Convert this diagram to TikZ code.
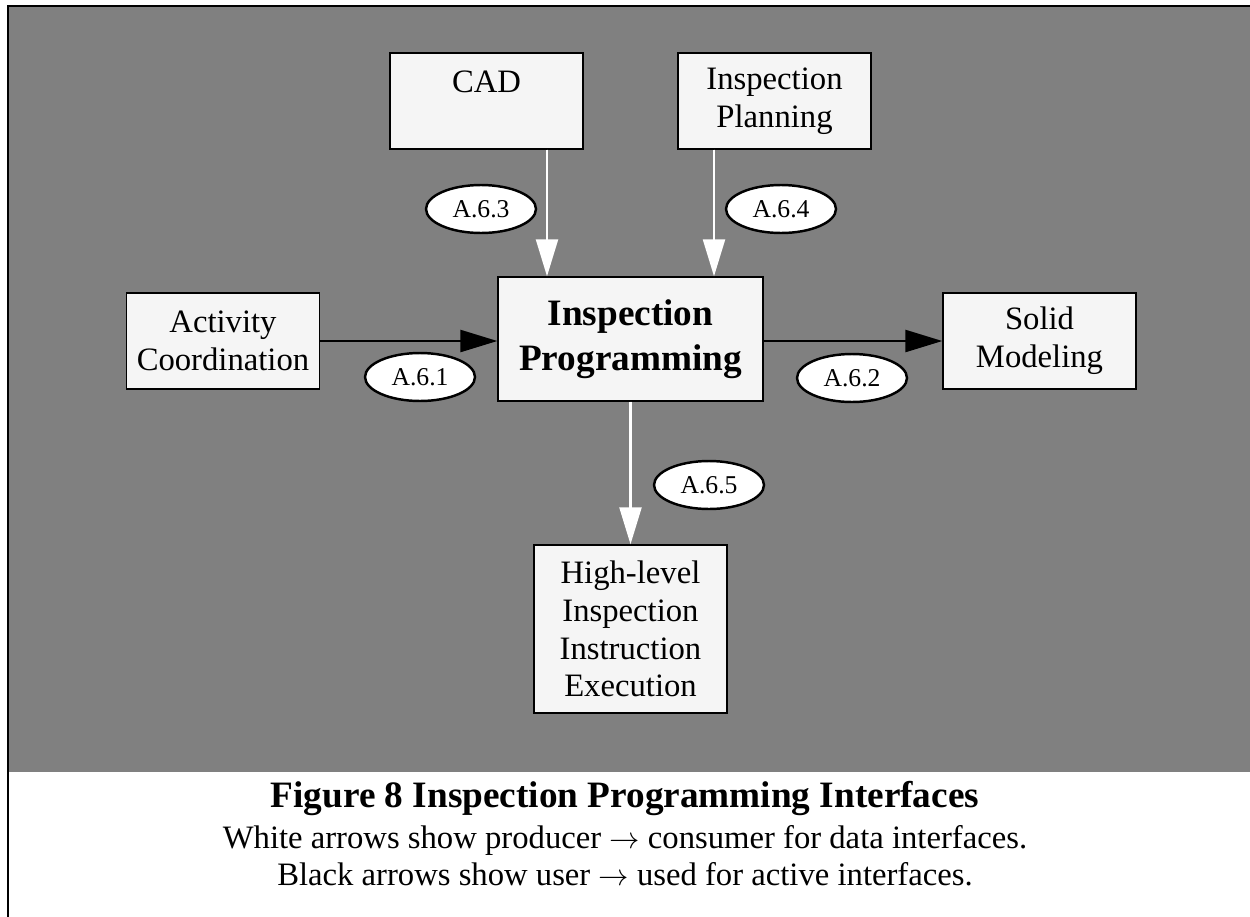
\documentclass[tikz,border=0pt]{standalone}
\usepackage{fontspec}
\setmainfont{Liberation Serif}
\usetikzlibrary{shapes.geometric, arrows.meta, positioning, calc}
\definecolor{panelgray}{RGB}{128, 128, 128}
\definecolor{boxfill}{RGB}{245, 245, 245}

\begin{document}
\begin{tikzpicture}[
    x=0.02cm, y=-0.02cm,
    box/.style={rectangle, draw, line width=0.8pt, fill=boxfill, minimum width=3.86cm, minimum height=1.92cm, inner sep=0pt, align=center, font=\fontsize{18.6}{21.5}\selectfont},
    mainbox/.style={box, minimum width=5.3cm, minimum height=2.48cm, font=\fontsize{21.2}{25.6}\selectfont\bfseries},
    tag/.style={ellipse, draw, line width=1.4pt, fill=white, minimum width=2.2cm, minimum height=0.96cm, inner sep=0pt, font=\fontsize{14.6}{16}\selectfont},
    blackarrow/.style={-{Triangle[length=0.74cm, width=0.44cm]}, line width=1.4pt},
    whitearrow/.style={-{Triangle[length=0.74cm, width=0.44cm]}, draw=white, fill=white, line width=1.3pt},
    caption/.style={anchor=base, inner sep=0pt, font=\fontsize{18.6}{21}\selectfont}
]

% Rahmen und grauer Hintergrund
\clip (0,0) rectangle (1250,916);
\fill[white] (0,0) rectangle (1250,916);
\fill[panelgray] (9,7) rectangle (1260,772);
\draw[line width=1.7pt] (8,6) rectangle (1300,1000);

% Knoten
\node[mainbox] (prog) at (630.5,339) {Inspection\\Programming};

\node[box] (cad) at (486.5,101) {CAD\\\mbox{}};
\node[box] (plan) at (774.5,101) {Inspection\\Planning};

\node[box] (coord) at (223,341) {Activity\\Coordination};
\node[box] (solid) at (1039.5,341) {Solid\\Modeling};

\node[box, minimum height=3.36cm] (exec) at (630.5,629) {High-level\\Inspection\\Instruction\\Execution};

% Datenschnittstellen (weiss)
\coordinate (cadout) at ($(cad.south)+(60.5,0)$);
\coordinate (planout) at ($(plan.south)+(-60.5,0)$);
\draw[whitearrow] (cadout) -- (cadout |- prog.north);
\draw[whitearrow] (planout) -- (planout |- prog.north);
\draw[whitearrow] (prog.south) -- (exec.north);

% Aktive Schnittstellen (schwarz)
\draw[blackarrow] (coord.east) -- (coord.east -| prog.west);
\draw[blackarrow] (solid.west -| prog.east) -- (solid.west);

% Bezeichner
\node[tag] (a63) at (481,209) {A.6.3};
\node[tag] (a64) at (781,209) {A.6.4};
\node[tag] (a61) at (420,377) {A.6.1};
\node[tag] (a62) at (852,378) {A.6.2};
\node[tag] (a65) at (709,485) {A.6.5};

% Bildunterschrift
\node[caption, font=\fontsize{21.2}{25}\selectfont\bfseries] (title) at (625,807) {Figure 8 Inspection Programming Interfaces};
\node[caption] (note1) at (625,848) {White arrows show producer $\rightarrow$ consumer for data interfaces.};
\node[caption] (note2) at (625,885) {Black arrows show user $\rightarrow$ used for active interfaces.};

\end{tikzpicture}
\end{document}
